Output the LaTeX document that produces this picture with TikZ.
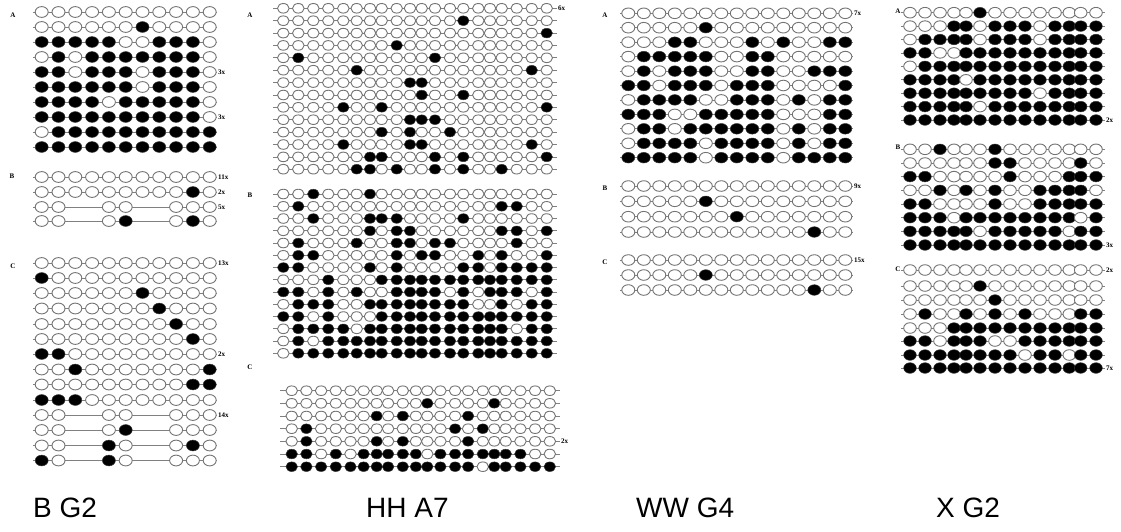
\documentclass[tikz,border=0pt]{standalone}
\usepackage{fontspec}
\setmainfont{Liberation Serif}
\newfontfamily\labfont{Liberation Sans}
\newcount\dotidx
\tikzset{
  unm/.style={draw=black!55, line width=0.9pt, fill=white},
  met/.style={fill=black, draw=black!80, line width=0.5pt},
  conn/.style={draw=black!50, line width=0.7pt},
  tag/.style={font=\fontsize{7}{7}\selectfont\bfseries, inner sep=0pt},
  cnt/.style={font=\fontsize{7}{7}\selectfont\bfseries, inner sep=0pt, anchor=west},
  ttl/.style={font=\labfont\fontsize{28}{28}\selectfont, inner sep=0pt, anchor=west}
}
\def\setpanel#1#2#3#4#5{\def\curArr{#1}\def\linL{#2}\def\linR{#3}\def\radx{#4}\def\rady{#5}}
\def\drow#1#2{\def\curY{#1}\global\dotidx=0
  \draw[conn] (\linL,\curY) -- (\linR,\curY);
  \rowloop#2\relax}
\def\rowloop#1{\ifx\relax#1\else\drawdot#1\expandafter\rowloop\fi}
\def\drawdot#1{\pgfmathsetmacro\xx{\curArr[\the\dotidx]}%
  \ifnum#1=1 \fill[met] (\xx,\curY) ellipse [x radius=\radx, y radius=\rady];\fi
  \ifnum#1=0 \draw[unm] (\xx,\curY) ellipse [x radius=\radx, y radius=\rady];\fi
  \global\advance\dotidx by 1\relax}
\def\bgx{{41.7,58.5,75.3,92.1,108.9,125.7,142.5,159.3,176.1,192.9,209.7}}
\def\hhx{{283.3,298.3,313.3,328.3,343.3,356.7,370,381.7,396.7,410,421.7,435,450,463.3,478.3,490,501.7,516.7,531.7,546.7}}
\def\hhcx{{291.7,306.4,321.1,335.8,350.5,363.6,376.7,388.1,402.8,415.9,427.3,440.4,455.1,468.1,482.8,494.3,505.7,520.4,535.1,549.8}}
\def\wwx{{628.3,643.8,659.3,674.8,690.3,705.8,721.3,736.8,752.3,767.8,783.3,798.8,814.3,829.8,845.3}}
\def\xgx{{910,925,940,954,966,980,995,1010,1025,1040,1055,1069.3,1080.7,1096}}
\begin{document}
\begin{tikzpicture}[x=1pt,y=-1pt]
\useasboundingbox (0,0) rectangle (1121,531);
\fill[white] (0,0) rectangle (1121,531);
% ---------------- B G2 ----------------
\setpanel{\bgx}{33}{217}{6.5pt}{5.4pt}
\drow{12}{00000000000}
\drow{27}{00000010000}
\drow{42}{11111001110}
\drow{57}{01011111110}
\drow{72}{11011101110}
\drow{87}{11111101110}
\drow{102}{11110111110}
\drow{117}{11111111110}
\drow{132}{01111111111}
\drow{147}{11111111111}
\node[tag] (bgA) at (13,15) {A};
\node[cnt] (bgA1) at (218,72) {3x};
\node[cnt] (bgA2) at (218,117) {3x};
\drow{177}{00000000000}
\drow{192}{00000000010}
\drow{207}{00990099000}
\drow{221}{00990199010}
\node[tag] (bgB) at (12,176) {B};
\node[cnt] (bgB1) at (218,177) {11x};
\node[cnt] (bgB2) at (218,192) {2x};
\node[cnt] (bgB3) at (218,207) {5x};
\drow{263}{00000000000}
\drow{278}{10000000000}
\drow{293}{00000010000}
\drow{308.5}{00000001000}
\drow{324}{00000000100}
\drow{339}{00000000010}
\drow{354}{11000000000}
\drow{369.5}{00100000001}
\drow{384.5}{00000000011}
\drow{400}{11100000000}
\drow{415}{00990099000}
\drow{430}{00990199000}
\drow{445.5}{00991099010}
\drow{460.5}{10991099000}
\node[tag] (bgC) at (13,266) {C};
\node[cnt] (bgC1) at (218,263) {13x};
\node[cnt] (bgC2) at (218,354) {2x};
\node[cnt] (bgC3) at (218,415) {14x};
% ---------------- HH A7 ----------------
\setpanel{\hhx}{273}{557}{5.8pt}{4.8pt}
\drow{8.3}{00000000000000000000}
\drow{20.7}{00000000000001000000}
\drow{33.1}{00000000000000000001}
\drow{45.4}{00000000100000000000}
\drow{57.8}{01000000000100000000}
\drow{70.2}{00000100000000000010}
\drow{82.6}{00000000011000000000}
\drow{95.0}{00000000001001000000}
\drow{107.3}{00001001000000000001}
\drow{119.7}{00000000011100000000}
\drow{132.1}{00000001010010000000}
\drow{144.5}{00001000011000000010}
\drow{156.9}{00000011000101000001}
\drow{169.2}{00000110100101001000}
\node[tag] (hhA) at (250,15) {A};
\node[cnt] (hhA1) at (558,8.3) {6x};
\drow{194}{00100010000000000000}
\drow{206.3}{01000000000000001100}
\drow{218.5}{00100011100001000000}
\drow{230.8}{00000010110000001101}
\drow{243}{01000100110110000100}
\drow{255.3}{01100000101100101001}
\drow{267.5}{11000010100001101111}
\drow{279.8}{00010001111111111111}
\drow{292}{11010100111101011101}
\drow{304.3}{01110011111111001011}
\drow{316.5}{11010001111111111111}
\drow{328.8}{01111011111111111011}
\drow{341}{01011111111111111111}
\drow{353.3}{01111111111111111111}
\node[tag] (hhB) at (250,195) {B};
\node[tag] (hhC) at (250,367) {C};
\setpanel{\hhcx}{280}{560}{5.8pt}{4.8pt}
\drow{390.7}{00000000000000000000}
\drow{403.3}{00000000001000010000}
\drow{416}{00000010100001000000}
\drow{428.7}{01000000000010100000}
\drow{441.3}{01000010100001000000}
\drow{454}{11010111110111111100}
\drow{466.7}{11111111111111011111}
\node[cnt] (hhC1) at (561,441.3) {2x};
% ---------------- WW G4 ----------------
\setpanel{\wwx}{620}{853}{6.5pt}{5.3pt}
\drow{13.3}{000000000000000}
\drow{27.7}{000001000000000}
\drow{42.2}{000110001010011}
\drow{56.6}{011111001100000}
\drow{71.1}{010111001100111}
\drow{85.5}{110111011100001}
\drow{99.9}{011110011101011}
\drow{114.4}{111001111100011}
\drow{128.8}{011011111101011}
\drow{143.3}{011110111101011}
\drow{157.7}{111110111101111}
\node[tag] (wwA) at (605,15) {A};
\node[cnt] (wwA1) at (854,13.3) {7x};
\drow{186}{000000000000000}
\drow{201.3}{000001000000000}
\drow{216.7}{000000010000000}
\drow{232}{000000000000100}
\node[tag] (wwB) at (605,188) {B};
\node[cnt] (wwB1) at (854,186) {9x};
\drow{260}{000000000000000}
\drow{275}{000001000000000}
\drow{290}{000000000000100}
\node[tag] (wwC) at (605,262) {C};
\node[cnt] (wwC1) at (854,260) {15x};
% ---------------- X G2 ----------------
\setpanel{\xgx}{901}{1105}{6.3pt}{5.3pt}
\drow{12.7}{00000100000000}
\drow{26.1}{00011011101111}
\drow{39.5}{01111011101111}
\drow{52.9}{11001111111111}
\drow{66.3}{01111111111111}
\drow{79.8}{11110111111111}
\drow{93.2}{11111111101111}
\drow{106.6}{11111011111111}
\drow{120}{11111111111111}
\node[tag] (xA) at (898,11) {A};
\node[cnt] (xA1) at (1106,120) {2x};
\drow{149.3}{00100010000000}
\drow{163}{00000011000010}
\drow{176.6}{11000001000111}
\drow{190.3}{00101010011110}
\drow{204}{11000010011111}
\drow{217.7}{11101111111101}
\drow{231.3}{11111011111011}
\drow{245}{11111111111111}
\node[tag] (xB) at (898,147) {B};
\node[cnt] (xB1) at (1106,245) {3x};
\drow{270}{00000000000000}
\drow{286}{00000100000000}
\drow{300}{00000010000000}
\drow{314}{01001010100011}
\drow{328}{00011111111111}
\drow{341}{11011100111111}
\drow{355}{11111111011011}
\drow{368}{11111111111111}
\node[tag] (xC) at (898,269) {C};
\node[cnt] (xC1) at (1106,270) {2x};
\node[cnt] (xC2) at (1106,368) {7x};
% ---------------- titles ----------------
\node[ttl] (t1) at (33,508) {B G2};
\node[ttl] (t2) at (366,508) {HH A7};
\node[ttl] (t3) at (636,508) {WW G4};
\node[ttl] (t4) at (936,508) {X G2};
\end{tikzpicture}
\end{document}
